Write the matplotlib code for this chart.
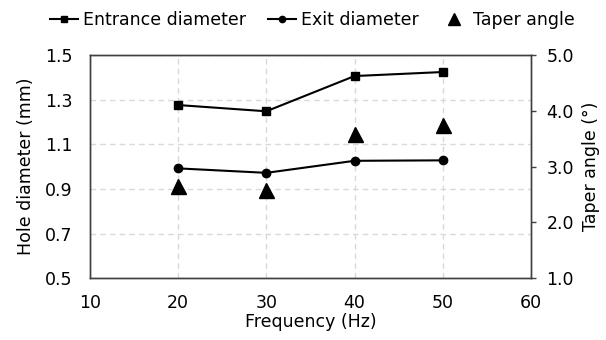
import matplotlib
matplotlib.use("Agg")
import matplotlib.pyplot as plt
from matplotlib.lines import Line2D

plt.rcParams['font.family'] = ['DejaVu Sans']

freq = [20, 30, 40, 50]
entrance = [1.276, 1.248, 1.406, 1.424]
exit_d = [0.992, 0.972, 1.026, 1.028]
taper = [2.65, 2.58, 3.58, 3.75]

x_ticks = [10, 20, 30, 40, 50, 60]
left_ticks = [0.5, 0.7, 0.9, 1.1, 1.3, 1.5]
right_ticks = [1.0, 2.0, 3.0, 4.0, 5.0]

FS = 12.5

fig = plt.figure(figsize=(6.06, 3.40), dpi=100)
ax = fig.add_axes([0.1485, 0.182, 0.7275, 0.656])
ax2 = ax.twinx()

ax.plot(freq, entrance, color='black', lw=1.5, marker='s', ms=5.5, zorder=3)
ax.plot(freq, exit_d, color='black', lw=1.5, marker='o', ms=6, zorder=3)
ax2.plot(freq, taper, linestyle='none', marker='^', ms=10.8, color='black')

ax.set_xlim(10, 60)
ax.set_ylim(0.5, 1.5)
ax2.set_ylim(1.0, 5.0)
ax.set_xticks(x_ticks)
ax.set_yticks(left_ticks)
ax.set_yticklabels([f"{v:.1f}" for v in left_ticks])
ax2.set_yticks(right_ticks)
ax2.set_yticklabels([f"{v:.1f}" for v in right_ticks])

ax.grid(True, color='#d9d9d9', linestyle=(0, (4, 3)), linewidth=1)
ax.set_axisbelow(True)
ax.tick_params(axis='x', length=0, labelsize=FS, pad=11.5)
ax.tick_params(axis='y', length=0, labelsize=FS, pad=12.5)
ax2.tick_params(axis='y', length=3.6, width=1, direction='out', labelsize=FS, pad=7.5, color='#404040')

for a in (ax, ax2):
    for s in a.spines.values():
        s.set_color('#404040')
        s.set_linewidth(1)

ax.set_xlabel('Frequency (Hz)', fontsize=FS, labelpad=1)
ax.set_ylabel('Hole diameter (mm)', fontsize=FS, labelpad=7)
ax2.set_ylabel('Taper angle (°)', fontsize=FS, labelpad=6)

handles = [
    Line2D([], [], color='black', lw=1.5, marker='s', ms=5),
    Line2D([], [], color='black', lw=1.5, marker='o', ms=4.5),
    Line2D([], [], color='black', linestyle='none', marker='^', ms=9),
]
labels = ['Entrance diameter', 'Exit diameter', 'Taper angle']
fig.legend(handles, labels, loc='center', bbox_to_anchor=(0.516, 0.94), ncol=3,
           frameon=False, fontsize=FS, handlelength=1.6, handletextpad=0.3,
           columnspacing=1.25, borderaxespad=0, borderpad=0)

fig.savefig('out.png', dpi=100)
